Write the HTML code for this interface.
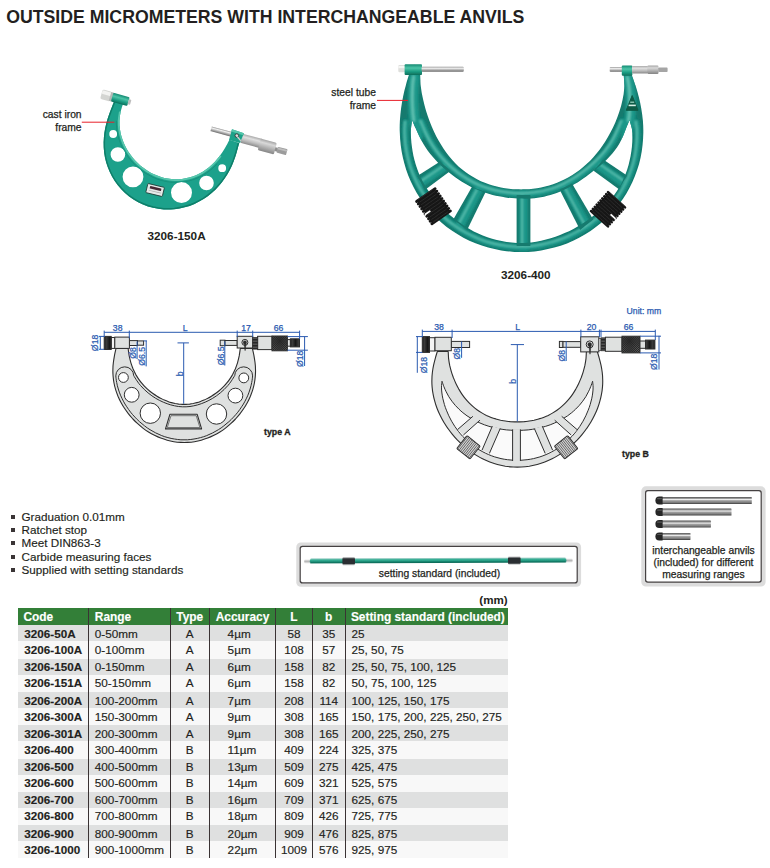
<!DOCTYPE html>
<html lang="en">
<head>
<meta charset="utf-8">
<title>Outside Micrometers with Interchangeable Anvils</title>
<style>
html,body{margin:0;padding:0;background:#fff;}
body{width:770px;height:868px;position:relative;overflow:hidden;font-family:"Liberation Sans",Arial,Helvetica,sans-serif;color:#231f20;}
.abs{position:absolute;white-space:nowrap;}
h1{position:absolute;left:6.2px;top:7.2px;margin:0;font-size:17.7px;line-height:20px;font-weight:bold;white-space:nowrap;color:#231f20;}
.cap{-webkit-text-stroke:.25px #231f20;font-size:10.3px;line-height:12.4px;text-align:right;color:#231f20;}
.model{font-size:11.75px;font-weight:bold;line-height:14px;}
.typ{-webkit-text-stroke:.3px #231f20;font-size:8.8px;font-weight:bold;line-height:11px;}
ul.feat{-webkit-text-stroke:.15px #231f20;position:absolute;left:11px;top:510px;margin:0;padding:0;list-style:none;font-size:11.7px;line-height:13.2px;}
ul.feat li{position:relative;padding-left:10.5px;white-space:nowrap;}
ul.feat li:before{content:"";position:absolute;left:0;top:5px;width:4px;height:4px;background:#3a3536;}
.boxtxt{-webkit-text-stroke:.25px #231f20;font-size:10.3px;line-height:11.7px;text-align:center;}
table.spec{position:absolute;left:18px;top:608.4px;width:489.6px;border-collapse:collapse;table-layout:fixed;font-size:11.75px;-webkit-text-stroke:.15px #231f20;}
table.spec th{background:#337f38;color:#fff;-webkit-text-stroke:.15px #fff;font-weight:bold;font-size:11.9px;text-align:left;height:17.1px;padding:1.1px 0 0 5.4px;line-height:16px;box-sizing:border-box;}
table.spec td{height:16px;padding:2.6px 0 0 0;line-height:12px;vertical-align:top;white-space:nowrap;overflow:visible;box-sizing:border-box;}
table.spec tr:nth-child(even) td{height:17.27px;}
table.spec tr:nth-child(odd) td{background:#dfe0e0;}
table.spec tr:nth-child(even) td{background:#f8f8f8;}
table.spec td.c{font-weight:bold;padding-left:6.3px;font-size:11.7px;}
table.spec td.r{padding-left:6.3px;}
table.spec td.m{text-align:center;}
table.spec td.a{padding-left:17.6px;}
table.spec td.s{padding-left:6px;}
table.spec th.m{text-align:center;padding:1.1px 0 0 0;}
table.spec th.r{padding-left:6.3px;}
table.spec td+td, table.spec th+th{border-left:1.3px solid #3a3334;}
.mm{font-size:11.6px;font-weight:bold;right:262.3px;top:592.5px;line-height:13px;}
</style>
</head>
<body>
<h1>OUTSIDE MICROMETERS WITH INTERCHANGEABLE ANVILS</h1>


<div class="abs cap" style="left:30px;top:109.1px;width:51.6px;">cast iron<br>frame</div>
<div class="abs cap" style="left:320px;top:87.1px;width:56px;">steel tube<br>frame</div>
<div class="abs model" style="left:147.5px;top:229px;">3206-150A</div>
<div class="abs model" style="left:501px;top:268px;">3206-400</div>
<div class="abs typ" style="left:264px;top:426.9px;">type A</div>
<div class="abs typ" style="left:622px;top:449.1px;">type B</div>

<ul class="feat">
<li>Graduation 0.01mm</li>
<li>Ratchet stop</li>
<li>Meet DIN863-3</li>
<li>Carbide measuring faces</li>
<li>Supplied with setting standards</li>
</ul>



<svg class="abs" style="left:0;top:0" width="770" height="868" viewBox="0 0 770 868">
<defs>
<filter id="soft2" x="-10%" y="-10%" width="120%" height="120%"><feGaussianBlur stdDeviation="1.1"/></filter>
<filter id="soft3" x="-10%" y="-10%" width="120%" height="120%"><feGaussianBlur stdDeviation="0.8"/></filter>
<filter id="soft" x="-5%" y="-5%" width="110%" height="110%"><feGaussianBlur stdDeviation="0.45"/></filter>
<linearGradient id="gsteel" x1="0" y1="0" x2="0" y2="1"><stop offset="0" stop-color="#8d8d8d"/><stop offset=".3" stop-color="#f2f2f2"/><stop offset=".6" stop-color="#b5b5b5"/><stop offset="1" stop-color="#6a6a6a"/></linearGradient>
<linearGradient id="ggreen" x1="0" y1="0" x2="0" y2="1"><stop offset="0" stop-color="#138a72"/><stop offset=".35" stop-color="#4cc4a8"/><stop offset=".7" stop-color="#1a9a80"/><stop offset="1" stop-color="#0c6f5b"/></linearGradient>
<linearGradient id="ggreen2" x1="0" y1="0" x2="0" y2="1"><stop offset="0" stop-color="#1a9079"/><stop offset=".3" stop-color="#3fb99e"/><stop offset=".6" stop-color="#168a73"/><stop offset="1" stop-color="#0b5f4e"/></linearGradient>
<linearGradient id="gsleeve" x1="0" y1="0" x2="0" y2="1"><stop offset="0" stop-color="#a9a9a9"/><stop offset=".3" stop-color="#e0e0e0"/><stop offset=".65" stop-color="#bcbcbc"/><stop offset="1" stop-color="#8a8a8a"/></linearGradient>
<linearGradient id="gthim" x1="0" y1="0" x2="0" y2="1"><stop offset="0" stop-color="#a3a3a3"/><stop offset=".28" stop-color="#d9d9d9"/><stop offset=".6" stop-color="#b3b3b3"/><stop offset="1" stop-color="#858585"/></linearGradient>
<linearGradient id="grod" x1="0" y1="0" x2="0" y2="1"><stop offset="0" stop-color="#505050"/><stop offset=".22" stop-color="#9a9a9a"/><stop offset=".36" stop-color="#ededed"/><stop offset=".52" stop-color="#a2a2a2"/><stop offset=".8" stop-color="#7a7a7a"/><stop offset="1" stop-color="#3c3c3c"/></linearGradient>
<pattern id="knv" width="1.2" height="4" patternUnits="userSpaceOnUse"><rect width="1.2" height="4" fill="#3a3a3a"/><rect width=".5" height="4" fill="#111"/></pattern>
<pattern id="knh" width="4" height="1.5" patternUnits="userSpaceOnUse"><rect width="4" height="1.5" fill="#1c1c1c"/><rect y=".9" width="4" height=".45" fill="#8a8a8a"/></pattern>
<pattern id="knx" width="1.5" height="1.5" patternUnits="userSpaceOnUse" patternTransform="rotate(45)"><rect width="1.5" height="1.5" fill="#262626"/><rect width=".6" height=".6" fill="#7d7d7d"/></pattern>
</defs>
<g id="photo1" filter="url(#soft)">
<clipPath id="clip1"><path d="M114.3,101C113.7,102.5 111.9,106.9 110.8,109.8C109.7,112.8 108.5,115.7 107.6,118.7C106.7,121.7 105.9,124.8 105.2,127.9C104.6,131.1 104.1,134.3 103.9,137.5C103.6,140.7 103.5,144 103.7,147.4C103.9,150.7 104.3,154 104.9,157.3C105.6,160.6 106.5,163.9 107.7,167.1C108.9,170.4 110.3,173.5 112,176.6C113.7,179.6 115.6,182.6 117.8,185.3C120,188 122.4,190.7 125,193C127.7,195.4 130.5,197.6 133.5,199.5C136.5,201.4 139.7,203.1 143,204.4C146.2,205.8 149.7,206.9 153.1,207.8C156.6,208.6 160.2,209.1 163.7,209.4C167.2,209.6 170.8,209.5 174.3,209.2C177.8,208.8 181.3,208.2 184.7,207.3C188,206.4 191.3,205.3 194.5,203.9C197.6,202.5 200.7,200.9 203.6,199.1C206.4,197.2 209.2,195.2 211.7,193C214.3,190.9 216.6,188.5 218.8,186C221,183.6 223,180.9 224.8,178.3C226.7,175.6 228.3,172.8 229.8,169.9C231.3,167.1 232.6,164.2 233.7,161.2C234.9,158.2 235.8,155.2 236.7,152.2C237.6,149.1 238.8,144.4 239.2,142.9L229.4,139.7C228.7,141.1 226.6,145.4 225,148C223.5,150.6 221.9,153 220.2,155.3C218.5,157.6 216.7,159.7 214.9,161.7C213,163.7 211.1,165.5 209,167.2C207,168.8 204.9,170.4 202.7,171.7C200.6,173 198.3,174.2 196,175.2C193.7,176.2 191.4,177 189,177.6C186.7,178.2 184.3,178.7 181.9,179C179.6,179.2 177.2,179.3 174.8,179.3C172.5,179.2 170.2,179 167.9,178.6C165.6,178.2 163.3,177.7 161.1,177C159,176.3 156.8,175.5 154.7,174.6C152.7,173.7 150.6,172.6 148.7,171.4C146.7,170.3 144.8,169 143,167.6C141.1,166.2 139.4,164.7 137.7,163C136,161.4 134.3,159.6 132.8,157.8C131.3,155.9 129.8,153.9 128.4,151.8C127.1,149.7 125.8,147.4 124.7,145.1C123.6,142.7 122.6,140.2 121.8,137.6C121,135 120.4,132.2 120,129.4C119.6,126.6 119.4,123.7 119.5,120.7C119.6,117.8 120,114.8 120.7,111.8C121.3,108.9 122.9,104.5 123.4,103ZM109.3,134a3.9,3.9 0 1,0 7.8,0a3.9,3.9 0 1,0 -7.8,0ZM110.6,154.5a7.3,7.3 0 1,0 14.6,0a7.3,7.3 0 1,0 -14.6,0ZM122.6,176.8a10.4,10.4 0 1,0 20.8,0a10.4,10.4 0 1,0 -20.8,0ZM171,192.6a10.5,10.5 0 1,0 21,0a10.5,10.5 0 1,0 -21,0ZM199.2,183a7.3,7.3 0 1,0 14.6,0a7.3,7.3 0 1,0 -14.6,0ZM218.3,168.2a3.9,3.9 0 1,0 7.8,0a3.9,3.9 0 1,0 -7.8,0Z" clip-rule="evenodd"/></clipPath>
<path d="M114.3,101C113.7,102.5 111.9,106.9 110.8,109.8C109.7,112.8 108.5,115.7 107.6,118.7C106.7,121.7 105.9,124.8 105.2,127.9C104.6,131.1 104.1,134.3 103.9,137.5C103.6,140.7 103.5,144 103.7,147.4C103.9,150.7 104.3,154 104.9,157.3C105.6,160.6 106.5,163.9 107.7,167.1C108.9,170.4 110.3,173.5 112,176.6C113.7,179.6 115.6,182.6 117.8,185.3C120,188 122.4,190.7 125,193C127.7,195.4 130.5,197.6 133.5,199.5C136.5,201.4 139.7,203.1 143,204.4C146.2,205.8 149.7,206.9 153.1,207.8C156.6,208.6 160.2,209.1 163.7,209.4C167.2,209.6 170.8,209.5 174.3,209.2C177.8,208.8 181.3,208.2 184.7,207.3C188,206.4 191.3,205.3 194.5,203.9C197.6,202.5 200.7,200.9 203.6,199.1C206.4,197.2 209.2,195.2 211.7,193C214.3,190.9 216.6,188.5 218.8,186C221,183.6 223,180.9 224.8,178.3C226.7,175.6 228.3,172.8 229.8,169.9C231.3,167.1 232.6,164.2 233.7,161.2C234.9,158.2 235.8,155.2 236.7,152.2C237.6,149.1 238.8,144.4 239.2,142.9L229.4,139.7C228.7,141.1 226.6,145.4 225,148C223.5,150.6 221.9,153 220.2,155.3C218.5,157.6 216.7,159.7 214.9,161.7C213,163.7 211.1,165.5 209,167.2C207,168.8 204.9,170.4 202.7,171.7C200.6,173 198.3,174.2 196,175.2C193.7,176.2 191.4,177 189,177.6C186.7,178.2 184.3,178.7 181.9,179C179.6,179.2 177.2,179.3 174.8,179.3C172.5,179.2 170.2,179 167.9,178.6C165.6,178.2 163.3,177.7 161.1,177C159,176.3 156.8,175.5 154.7,174.6C152.7,173.7 150.6,172.6 148.7,171.4C146.7,170.3 144.8,169 143,167.6C141.1,166.2 139.4,164.7 137.7,163C136,161.4 134.3,159.6 132.8,157.8C131.3,155.9 129.8,153.9 128.4,151.8C127.1,149.7 125.8,147.4 124.7,145.1C123.6,142.7 122.6,140.2 121.8,137.6C121,135 120.4,132.2 120,129.4C119.6,126.6 119.4,123.7 119.5,120.7C119.6,117.8 120,114.8 120.7,111.8C121.3,108.9 122.9,104.5 123.4,103ZM109.3,134a3.9,3.9 0 1,0 7.8,0a3.9,3.9 0 1,0 -7.8,0ZM110.6,154.5a7.3,7.3 0 1,0 14.6,0a7.3,7.3 0 1,0 -14.6,0ZM122.6,176.8a10.4,10.4 0 1,0 20.8,0a10.4,10.4 0 1,0 -20.8,0ZM171,192.6a10.5,10.5 0 1,0 21,0a10.5,10.5 0 1,0 -21,0ZM199.2,183a7.3,7.3 0 1,0 14.6,0a7.3,7.3 0 1,0 -14.6,0ZM218.3,168.2a3.9,3.9 0 1,0 7.8,0a3.9,3.9 0 1,0 -7.8,0Z" fill="#1fa18b" fill-rule="evenodd"/>
<g clip-path="url(#clip1)">
<path d="M114.3,101C113.7,102.5 111.9,106.9 110.8,109.8C109.7,112.8 108.5,115.7 107.6,118.7C106.7,121.7 105.9,124.8 105.2,127.9C104.6,131.1 104.1,134.3 103.9,137.5C103.6,140.7 103.5,144 103.7,147.4C103.9,150.7 104.3,154 104.9,157.3C105.6,160.6 106.5,163.9 107.7,167.1C108.9,170.4 110.3,173.5 112,176.6C113.7,179.6 115.6,182.6 117.8,185.3C120,188 122.4,190.7 125,193C127.7,195.4 130.5,197.6 133.5,199.5C136.5,201.4 139.7,203.1 143,204.4C146.2,205.8 149.7,206.9 153.1,207.8C156.6,208.6 160.2,209.1 163.7,209.4C167.2,209.6 170.8,209.5 174.3,209.2C177.8,208.8 181.3,208.2 184.7,207.3C188,206.4 191.3,205.3 194.5,203.9C197.6,202.5 200.7,200.9 203.6,199.1C206.4,197.2 209.2,195.2 211.7,193C214.3,190.9 216.6,188.5 218.8,186C221,183.6 223,180.9 224.8,178.3C226.7,175.6 228.3,172.8 229.8,169.9C231.3,167.1 232.6,164.2 233.7,161.2C234.9,158.2 235.8,155.2 236.7,152.2C237.6,149.1 238.8,144.4 239.2,142.9" fill="none" stroke="#0f7f6a" stroke-width="3"/>
<path d="M220.2,155.3C219.3,156.4 216.7,159.7 214.9,161.7C213,163.7 211.1,165.5 209,167.2C207,168.8 204.9,170.4 202.7,171.7C200.6,173 198.3,174.2 196,175.2C193.7,176.2 191.4,177 189,177.6C186.7,178.2 184.3,178.7 181.9,179C179.6,179.2 177.2,179.3 174.8,179.3C172.5,179.2 170.2,179 167.9,178.6C165.6,178.2 163.3,177.7 161.1,177C159,176.3 156.8,175.5 154.7,174.6C152.7,173.7 150.6,172.6 148.7,171.4C146.7,170.3 144.8,169 143,167.6C141.1,166.2 139.4,164.7 137.7,163C136,161.4 134.3,159.6 132.8,157.8C131.3,155.9 129.8,153.9 128.4,151.8C127.1,149.7 125.8,147.4 124.7,145.1C123.6,142.7 122.6,140.2 121.8,137.6C121,135 120.4,132.2 120,129.4C119.6,126.6 119.4,123.7 119.5,120.7C119.6,117.8 120.5,113.3 120.7,111.8" fill="none" stroke="#58c7ad" stroke-width="3.4"/>
<path d="M217.2,163.9C216.2,164.8 213.2,167.9 211.1,169.6C208.9,171.4 206.7,173 204.4,174.4C202.1,175.8 199.7,177.1 197.3,178.1C194.9,179.2 192.4,180 189.9,180.7C187.4,181.4 184.8,181.8 182.3,182.1C179.8,182.4 177.2,182.5 174.7,182.5C172.3,182.4 169.8,182.1 167.3,181.7C164.9,181.3 162.5,180.8 160.2,180.1C157.9,179.4 155.6,178.5 153.4,177.5C151.2,176.5 149.1,175.4 147,174.2C145,172.9 143,171.6 141,170.1C139.1,168.6 137.2,167 135.5,165.3C133.7,163.6 131.9,161.8 130.3,159.8C128.7,157.8 127.2,155.7 125.7,153.5C124.3,151.3 123,148.9 121.8,146.4C120.6,143.9 119.6,141.3 118.7,138.5C117.9,135.7 117.2,132.8 116.8,129.8C116.4,126.8 116.4,122.1 116.3,120.6" fill="none" stroke="#128a73" stroke-width=".9" opacity=".7"/>
</g>
<g transform="rotate(13.5 155.1 190)"><rect x="146.6" y="185.3" width="17" height="9.4" rx=".9" fill="#e6e9e8" stroke="#1d3b35" stroke-width=".8"/><rect x="149.4" y="187.2" width="11.6" height="2.6" rx=".5" fill="#4a2a35"/><rect x="149" y="191.4" width="12.4" height=".6" fill="#a9a9a9"/></g>
<g transform="rotate(15.6 120.3 99.4)">
<rect x="100.7" y="94.4" width="9.8" height="9.9" rx="1.6" fill="#d4d5d2"/><rect x="100.9" y="95.4" width="9.4" height="3.6" rx="1" fill="#f3f3f1"/>
<rect x="109.6" y="94.7" width="3" height="9.2" fill="#b5b8b6"/>
<rect x="111.8" y="94.9" width="17" height="9" rx="1.2" fill="url(#ggreen)"/>
<rect x="128.5" y="96.8" width="2.6" height="5.2" rx=".6" fill="#bdbdbd"/>
</g>
<g transform="rotate(15 236 136)">
<rect x="210" y="133.05" width="24" height="4.9" rx=".8" fill="url(#gsteel)"/>
<rect x="242" y="132" width="20.5" height="9.5" rx=".8" fill="url(#gsleeve)"/>
<rect x="260.6" y="132" width="16.7" height="12.1" rx="1.6" fill="url(#gthim)"/>
<rect x="277" y="136.6" width="3" height="4" fill="#8e8e8e"/>
<rect x="279.4" y="135.5" width="9.8" height="6.1" rx=".7" fill="#9c9c9c"/><rect x="279.4" y="136.3" width="9.8" height="1.8" fill="#bdbdbd"/>
</g>
<polygon points="232,129.3 243.9,133.2 240,143 229,139.9" fill="#1fa289"/>
<polygon points="232,129.3 243.9,133.2 243.2,135.3 231.3,131.4" fill="#55c6ab"/>
<circle cx="236.8" cy="135.6" r="1.8" fill="#dcdcdc" stroke="#2a2a2a" stroke-width=".8"/>
<path d="M237.6,137L240.4,140.4" stroke="#cfd4d2" stroke-width="1.2" stroke-linecap="round"/>
</g>
<path d="M81.8,122.2H114.4" stroke="#e8202a" stroke-width="1" fill="none"/>
<g id="photo2" filter="url(#soft)">
<path d="M409.5,73.2C408.9,75.1 407,80.8 406,84.7C404.9,88.6 403.9,92.5 403.1,96.4C402.3,100.3 401.6,104.3 401.1,108.3C400.6,112.3 400.2,116.3 399.9,120.4C399.7,124.4 399.6,128.5 399.8,132.6C399.9,136.7 400.2,140.8 400.7,144.9C401.2,149 401.9,153.2 402.8,157.3C403.7,161.3 404.8,165.4 406.1,169.4C407.4,173.4 409,177.4 410.7,181.3C412.5,185.2 414.4,189 416.6,192.7C418.8,196.5 421.2,200.1 423.8,203.6C426.4,207 429.2,210.4 432.1,213.6C435.1,216.8 438.3,219.9 441.6,222.7C444.9,225.6 448.4,228.3 452.1,230.8C455.7,233.3 459.5,235.6 463.4,237.7C467.3,239.8 471.4,241.6 475.5,243.3C479.6,244.9 483.9,246.4 488.2,247.6C492.4,248.8 496.8,249.7 501.2,250.4C505.6,251.2 510.1,251.6 514.5,251.9C519,252.1 523.5,252.1 527.9,251.9C532.4,251.7 536.9,251.2 541.2,250.5C545.6,249.7 550,248.8 554.3,247.6C558.6,246.4 562.8,245 567,243.4C571.1,241.8 575.2,239.9 579.1,237.8C583,235.8 586.8,233.5 590.5,231C594.1,228.6 597.7,225.9 601,223.1C604.4,220.2 607.6,217.2 610.6,214.1C613.6,210.9 616.4,207.6 619.1,204.1C621.7,200.7 624.1,197 626.4,193.4C628.6,189.7 630.6,185.8 632.4,182C634.2,178.1 635.8,174.1 637.1,170.1C638.5,166.1 639.6,162 640.5,157.9C641.4,153.8 642.1,149.6 642.5,145.5C643,141.3 643.2,137.2 643.3,133.1C643.4,129 643.2,124.9 642.9,120.8C642.5,116.8 642,112.8 641.3,108.8C640.6,104.8 639.8,100.9 638.8,97.1C637.9,93.2 636.7,89.4 635.5,85.6C634.3,81.9 632.2,76.4 631.5,74.5L623.7,74.5C623.8,76.7 624.5,83.2 624.3,87.4C624.1,91.7 623.4,95.9 622.5,100C621.7,104.1 620.6,108 619.3,111.8C618.1,115.6 616.7,119.2 615.2,122.7C613.7,126.2 612.1,129.5 610.4,132.6C608.7,135.8 606.9,138.8 605.1,141.7C603.2,144.6 601.3,147.3 599.4,150C597.4,152.6 595.3,155.1 593.2,157.4C591.1,159.8 588.9,162 586.6,164.1C584.4,166.2 582.1,168.2 579.7,170C577.3,171.8 574.9,173.5 572.4,175C569.9,176.6 567.4,178 564.8,179.3C562.3,180.6 559.7,181.7 557.1,182.7C554.5,183.8 551.8,184.7 549.2,185.4C546.5,186.2 543.8,186.9 541.2,187.4C538.5,187.9 535.8,188.4 533.1,188.7C530.4,189 527.7,189.2 525.1,189.3C522.4,189.4 519.7,189.4 517,189.3C514.3,189.2 511.6,189 508.9,188.7C506.2,188.4 503.5,188 500.8,187.5C498.1,186.9 495.4,186.3 492.7,185.5C490.1,184.7 487.4,183.8 484.8,182.8C482.1,181.7 479.5,180.5 477,179.2C474.4,177.9 471.9,176.4 469.4,174.8C467,173.2 464.5,171.4 462.2,169.5C459.9,167.6 457.6,165.6 455.5,163.4C453.3,161.2 451.2,158.9 449.3,156.5C447.3,154 445.4,151.4 443.6,148.8C441.8,146.1 440.1,143.3 438.4,140.3C436.8,137.4 435.3,134.4 433.8,131.2C432.4,128.1 431,124.8 429.7,121.4C428.4,117.9 427.2,114.4 426,110.7C424.9,107 423.9,103.1 423,99.1C422.1,95.1 421.3,90.9 420.8,86.5C420.4,82.2 420.2,75.4 420.1,73.2ZM412.1,119.9C412.7,121.3 414.5,125.6 415.7,128.3C416.9,131 418,133.7 419.3,136.3C420.5,138.8 421.8,141.3 423.3,143.7C424.7,146.2 426.2,148.5 427.8,150.7C429.5,152.9 431.2,155.1 432.9,157.1C434.7,159.1 436.5,161.1 438.3,162.9C440.2,164.8 442,166.6 443.9,168.3C445.8,170 447.8,171.6 449.7,173.1C451.6,174.7 453.6,176.1 455.6,177.5C457.5,178.9 459.5,180.2 461.5,181.5C463.5,182.8 465.6,183.9 467.6,185C469.6,186.2 471.7,187.2 473.8,188.2C475.8,189.1 477.9,190 480,190.8C482.1,191.6 484.2,192.4 486.3,193C488.4,193.7 490.6,194.3 492.7,194.9C494.8,195.4 497,195.9 499.1,196.3C501.2,196.7 503.3,197.1 505.5,197.4C507.6,197.7 509.7,197.9 511.9,198.1C514,198.3 516.1,198.5 518.3,198.6C520.4,198.6 522.6,198.7 524.7,198.7C526.8,198.6 529,198.6 531.1,198.4C533.3,198.3 535.4,198.1 537.6,197.8C539.7,197.5 541.9,197.1 544,196.7C546.1,196.2 548.3,195.7 550.4,195.1C552.5,194.5 554.6,193.8 556.6,193C558.7,192.3 560.7,191.4 562.8,190.5C564.8,189.5 566.8,188.5 568.8,187.5C570.7,186.4 572.7,185.3 574.6,184.1C576.6,182.9 578.5,181.7 580.4,180.4C582.3,179.1 584.2,177.8 586.2,176.4C588.1,175 590,173.6 592,172.1C593.9,170.6 595.9,169.1 597.8,167.5C599.8,165.9 601.8,164.2 603.7,162.4C605.6,160.7 607.6,158.8 609.4,156.8C611.3,154.9 613.1,152.8 614.7,150.6C616.4,148.4 617.9,146.1 619.3,143.7C620.7,141.3 621.9,138.7 623,136.2C624.2,133.6 625,130.9 626.1,128.2C627.2,125.5 628.9,121.3 629.5,119.9C629.9,121.4 631.4,125.8 631.9,128.8C632.4,131.8 632.4,134.8 632.4,137.8C632.4,140.9 632.2,143.9 631.9,147C631.6,150 631.1,153.1 630.6,156.1C630,159.2 629.3,162.2 628.5,165.3C627.7,168.3 626.7,171.3 625.5,174.2C624.4,177.2 623.1,180.1 621.6,182.9C620.2,185.7 618.6,188.5 616.8,191.2C615,193.8 613.1,196.4 611.1,198.9C609.1,201.4 606.9,203.8 604.6,206.1C602.4,208.3 600,210.5 597.5,212.6C595.1,214.7 592.5,216.7 589.9,218.6C587.3,220.5 584.6,222.3 581.9,224C579.1,225.7 576.3,227.4 573.4,228.9C570.6,230.4 567.6,231.8 564.6,233.1C561.6,234.5 558.6,235.7 555.5,236.8C552.4,237.9 549.2,238.8 546,239.6C542.8,240.5 539.6,241.2 536.3,241.7C533.1,242.2 529.8,242.6 526.5,242.8C523.2,243 519.8,243.1 516.5,242.9C513.2,242.8 509.9,242.5 506.6,242C503.3,241.6 500,240.9 496.8,240.1C493.6,239.3 490.5,238.3 487.4,237.2C484.3,236.1 481.2,234.9 478.2,233.5C475.2,232.1 472.3,230.6 469.5,228.9C466.7,227.3 463.9,225.6 461.3,223.7C458.6,221.9 456,220 453.5,218C451,215.9 448.5,213.8 446.2,211.7C443.9,209.5 441.6,207.2 439.4,204.9C437.3,202.5 435.2,200.1 433.3,197.6C431.3,195.1 429.5,192.6 427.8,190C426,187.3 424.4,184.6 423,181.9C421.5,179.1 420.1,176.3 418.9,173.4C417.7,170.5 416.7,167.6 415.8,164.7C414.9,161.7 414.1,158.7 413.4,155.7C412.8,152.8 412.3,149.7 411.9,146.7C411.5,143.7 411.2,140.7 411,137.7C410.9,134.7 410.8,131.7 411,128.8C411.2,125.8 411.9,121.4 412.1,119.9Z" fill="#137a6e" fill-rule="evenodd"/>
<polygon points="440.2,161.4 417.3,176.1 424.8,189.9 450.6,170.7" fill="#137a6e"/>
<polygon points="472,186.7 453.3,219.5 467.1,229.9 485.6,192.1" fill="#137a6e"/>
<polygon points="516.6,195 516.6,246 530.4,246 530.4,195" fill="#137a6e"/>
<polygon points="559.6,189.5 580.1,230.1 593.2,219.5 572,183.6" fill="#137a6e"/>
<polygon points="603.2,159.5 627,175.4 619,189.3 593.6,170.7" fill="#137a6e"/>
<clipPath id="clip2"><path d="M409.5,73.2C408.9,75.1 407,80.8 406,84.7C404.9,88.6 403.9,92.5 403.1,96.4C402.3,100.3 401.6,104.3 401.1,108.3C400.6,112.3 400.2,116.3 399.9,120.4C399.7,124.4 399.6,128.5 399.8,132.6C399.9,136.7 400.2,140.8 400.7,144.9C401.2,149 401.9,153.2 402.8,157.3C403.7,161.3 404.8,165.4 406.1,169.4C407.4,173.4 409,177.4 410.7,181.3C412.5,185.2 414.4,189 416.6,192.7C418.8,196.5 421.2,200.1 423.8,203.6C426.4,207 429.2,210.4 432.1,213.6C435.1,216.8 438.3,219.9 441.6,222.7C444.9,225.6 448.4,228.3 452.1,230.8C455.7,233.3 459.5,235.6 463.4,237.7C467.3,239.8 471.4,241.6 475.5,243.3C479.6,244.9 483.9,246.4 488.2,247.6C492.4,248.8 496.8,249.7 501.2,250.4C505.6,251.2 510.1,251.6 514.5,251.9C519,252.1 523.5,252.1 527.9,251.9C532.4,251.7 536.9,251.2 541.2,250.5C545.6,249.7 550,248.8 554.3,247.6C558.6,246.4 562.8,245 567,243.4C571.1,241.8 575.2,239.9 579.1,237.8C583,235.8 586.8,233.5 590.5,231C594.1,228.6 597.7,225.9 601,223.1C604.4,220.2 607.6,217.2 610.6,214.1C613.6,210.9 616.4,207.6 619.1,204.1C621.7,200.7 624.1,197 626.4,193.4C628.6,189.7 630.6,185.8 632.4,182C634.2,178.1 635.8,174.1 637.1,170.1C638.5,166.1 639.6,162 640.5,157.9C641.4,153.8 642.1,149.6 642.5,145.5C643,141.3 643.2,137.2 643.3,133.1C643.4,129 643.2,124.9 642.9,120.8C642.5,116.8 642,112.8 641.3,108.8C640.6,104.8 639.8,100.9 638.8,97.1C637.9,93.2 636.7,89.4 635.5,85.6C634.3,81.9 632.2,76.4 631.5,74.5L623.7,74.5C623.8,76.7 624.5,83.2 624.3,87.4C624.1,91.7 623.4,95.9 622.5,100C621.7,104.1 620.6,108 619.3,111.8C618.1,115.6 616.7,119.2 615.2,122.7C613.7,126.2 612.1,129.5 610.4,132.6C608.7,135.8 606.9,138.8 605.1,141.7C603.2,144.6 601.3,147.3 599.4,150C597.4,152.6 595.3,155.1 593.2,157.4C591.1,159.8 588.9,162 586.6,164.1C584.4,166.2 582.1,168.2 579.7,170C577.3,171.8 574.9,173.5 572.4,175C569.9,176.6 567.4,178 564.8,179.3C562.3,180.6 559.7,181.7 557.1,182.7C554.5,183.8 551.8,184.7 549.2,185.4C546.5,186.2 543.8,186.9 541.2,187.4C538.5,187.9 535.8,188.4 533.1,188.7C530.4,189 527.7,189.2 525.1,189.3C522.4,189.4 519.7,189.4 517,189.3C514.3,189.2 511.6,189 508.9,188.7C506.2,188.4 503.5,188 500.8,187.5C498.1,186.9 495.4,186.3 492.7,185.5C490.1,184.7 487.4,183.8 484.8,182.8C482.1,181.7 479.5,180.5 477,179.2C474.4,177.9 471.9,176.4 469.4,174.8C467,173.2 464.5,171.4 462.2,169.5C459.9,167.6 457.6,165.6 455.5,163.4C453.3,161.2 451.2,158.9 449.3,156.5C447.3,154 445.4,151.4 443.6,148.8C441.8,146.1 440.1,143.3 438.4,140.3C436.8,137.4 435.3,134.4 433.8,131.2C432.4,128.1 431,124.8 429.7,121.4C428.4,117.9 427.2,114.4 426,110.7C424.9,107 423.9,103.1 423,99.1C422.1,95.1 421.3,90.9 420.8,86.5C420.4,82.2 420.2,75.4 420.1,73.2ZM412.1,119.9C412.7,121.3 414.5,125.6 415.7,128.3C416.9,131 418,133.7 419.3,136.3C420.5,138.8 421.8,141.3 423.3,143.7C424.7,146.2 426.2,148.5 427.8,150.7C429.5,152.9 431.2,155.1 432.9,157.1C434.7,159.1 436.5,161.1 438.3,162.9C440.2,164.8 442,166.6 443.9,168.3C445.8,170 447.8,171.6 449.7,173.1C451.6,174.7 453.6,176.1 455.6,177.5C457.5,178.9 459.5,180.2 461.5,181.5C463.5,182.8 465.6,183.9 467.6,185C469.6,186.2 471.7,187.2 473.8,188.2C475.8,189.1 477.9,190 480,190.8C482.1,191.6 484.2,192.4 486.3,193C488.4,193.7 490.6,194.3 492.7,194.9C494.8,195.4 497,195.9 499.1,196.3C501.2,196.7 503.3,197.1 505.5,197.4C507.6,197.7 509.7,197.9 511.9,198.1C514,198.3 516.1,198.5 518.3,198.6C520.4,198.6 522.6,198.7 524.7,198.7C526.8,198.6 529,198.6 531.1,198.4C533.3,198.3 535.4,198.1 537.6,197.8C539.7,197.5 541.9,197.1 544,196.7C546.1,196.2 548.3,195.7 550.4,195.1C552.5,194.5 554.6,193.8 556.6,193C558.7,192.3 560.7,191.4 562.8,190.5C564.8,189.5 566.8,188.5 568.8,187.5C570.7,186.4 572.7,185.3 574.6,184.1C576.6,182.9 578.5,181.7 580.4,180.4C582.3,179.1 584.2,177.8 586.2,176.4C588.1,175 590,173.6 592,172.1C593.9,170.6 595.9,169.1 597.8,167.5C599.8,165.9 601.8,164.2 603.7,162.4C605.6,160.7 607.6,158.8 609.4,156.8C611.3,154.9 613.1,152.8 614.7,150.6C616.4,148.4 617.9,146.1 619.3,143.7C620.7,141.3 621.9,138.7 623,136.2C624.2,133.6 625,130.9 626.1,128.2C627.2,125.5 628.9,121.3 629.5,119.9C629.9,121.4 631.4,125.8 631.9,128.8C632.4,131.8 632.4,134.8 632.4,137.8C632.4,140.9 632.2,143.9 631.9,147C631.6,150 631.1,153.1 630.6,156.1C630,159.2 629.3,162.2 628.5,165.3C627.7,168.3 626.7,171.3 625.5,174.2C624.4,177.2 623.1,180.1 621.6,182.9C620.2,185.7 618.6,188.5 616.8,191.2C615,193.8 613.1,196.4 611.1,198.9C609.1,201.4 606.9,203.8 604.6,206.1C602.4,208.3 600,210.5 597.5,212.6C595.1,214.7 592.5,216.7 589.9,218.6C587.3,220.5 584.6,222.3 581.9,224C579.1,225.7 576.3,227.4 573.4,228.9C570.6,230.4 567.6,231.8 564.6,233.1C561.6,234.5 558.6,235.7 555.5,236.8C552.4,237.9 549.2,238.8 546,239.6C542.8,240.5 539.6,241.2 536.3,241.7C533.1,242.2 529.8,242.6 526.5,242.8C523.2,243 519.8,243.1 516.5,242.9C513.2,242.8 509.9,242.5 506.6,242C503.3,241.6 500,240.9 496.8,240.1C493.6,239.3 490.5,238.3 487.4,237.2C484.3,236.1 481.2,234.9 478.2,233.5C475.2,232.1 472.3,230.6 469.5,228.9C466.7,227.3 463.9,225.6 461.3,223.7C458.6,221.9 456,220 453.5,218C451,215.9 448.5,213.8 446.2,211.7C443.9,209.5 441.6,207.2 439.4,204.9C437.3,202.5 435.2,200.1 433.3,197.6C431.3,195.1 429.5,192.6 427.8,190C426,187.3 424.4,184.6 423,181.9C421.5,179.1 420.1,176.3 418.9,173.4C417.7,170.5 416.7,167.6 415.8,164.7C414.9,161.7 414.1,158.7 413.4,155.7C412.8,152.8 412.3,149.7 411.9,146.7C411.5,143.7 411.2,140.7 411,137.7C410.9,134.7 410.8,131.7 411,128.8C411.2,125.8 411.9,121.4 412.1,119.9Z" clip-rule="evenodd"/><polygon points="440.2,161.4 417.3,176.1 424.8,189.9 450.6,170.7"/><polygon points="472,186.7 453.3,219.5 467.1,229.9 485.6,192.1"/><polygon points="516.6,195 516.6,246 530.4,246 530.4,195"/><polygon points="559.6,189.5 580.1,230.1 593.2,219.5 572,183.6"/><polygon points="603.2,159.5 627,175.4 619,189.3 593.6,170.7"/></clipPath>
<g clip-path="url(#clip2)">
<g filter="url(#soft2)">
<path d="M417.5,136.6C417.3,135.8 416.7,133.3 416.4,131.6C416,129.9 415.7,128.2 415.4,126.5C415.1,124.7 414.9,123 414.7,121.3C414.4,119.5 414.2,117.8 414,116C413.8,114.3 413.7,112.5 413.6,110.7C413.5,109 413.3,107.2 413.3,105.4C413.2,103.6 413.2,101.8 413.1,100C413.1,98.1 413.1,96.3 413.2,94.5C413.2,92.6 413.3,90.8 413.4,88.9C413.5,87.1 413.6,85.2 413.8,83.3C414,81.4 414.4,78.6 414.5,77.7" fill="none" stroke="#1f9789" stroke-width="10.5" stroke-linecap="round"/>
<path d="M628.3,78.2C628.4,79.1 629,81.9 629.3,83.7C629.6,85.5 629.9,87.4 630.1,89.2C630.3,91 630.4,92.8 630.5,94.7C630.6,96.5 630.7,98.3 630.7,100.1C630.8,101.9 630.8,103.7 630.7,105.5C630.7,107.3 630.6,109.1 630.5,110.9C630.4,112.7 630.3,114.4 630.1,116.2C629.9,118 629.7,119.7 629.4,121.4C629.2,123.2 628.9,124.9 628.6,126.6C628.3,128.4 628,130.1 627.6,131.8C627.3,133.5 626.6,136 626.4,136.8" fill="none" stroke="#1f9789" stroke-width="10.5" stroke-linecap="round"/>
<path d="M622.2,121.8C621.7,122.9 620.3,126.2 619.4,128.4C618.4,130.5 617.5,132.6 616.5,134.7C615.6,136.7 614.5,138.8 613.4,140.7C612.3,142.6 611.1,144.5 609.9,146.3C608.6,148.1 607.3,149.9 606,151.6C604.6,153.3 603.2,154.9 601.8,156.4C600.4,158 598.9,159.5 597.4,160.9C596,162.4 594.5,163.8 593,165.1C591.5,166.4 589.9,167.7 588.4,169C586.9,170.2 585.4,171.4 583.8,172.6C582.3,173.7 580.7,174.8 579.2,175.9C577.6,177 576.1,178 574.5,179C572.9,180 571.3,180.9 569.7,181.8C568.1,182.7 566.5,183.6 564.9,184.4C563.3,185.2 561.6,185.9 560,186.6C558.3,187.3 556.7,188 555,188.6C553.3,189.2 551.6,189.7 549.9,190.2C548.2,190.7 546.5,191.2 544.8,191.6C543.1,192 541.4,192.3 539.6,192.6C537.9,192.9 536.2,193.1 534.5,193.3C532.7,193.5 531,193.7 529.3,193.8C527.5,193.9 525.8,194 524.1,194C522.4,194.1 520.6,194 518.9,194C517.2,194 515.4,193.9 513.7,193.7C512,193.6 510.3,193.4 508.5,193.2C506.8,193 505.1,192.8 503.4,192.5C501.6,192.2 499.9,191.9 498.2,191.5C496.5,191.2 494.8,190.8 493,190.3C491.3,189.8 489.6,189.3 487.9,188.8C486.2,188.2 484.5,187.6 482.8,187C481.1,186.3 479.4,185.6 477.8,184.8C476.1,184.1 474.4,183.3 472.8,182.4C471.1,181.5 469.5,180.6 467.9,179.7C466.3,178.7 464.7,177.7 463.1,176.6C461.5,175.5 460,174.4 458.4,173.2C456.9,172 455.4,170.8 453.9,169.5C452.3,168.2 450.9,166.9 449.4,165.5C448,164.1 446.5,162.7 445.1,161.2C443.7,159.7 442.3,158.1 441,156.5C439.6,154.9 438.3,153.3 437.1,151.5C435.8,149.8 434.6,148 433.4,146.2C432.2,144.4 431.1,142.5 430,140.6C428.9,138.6 427.9,136.6 426.9,134.6C425.9,132.6 425,130.5 424.1,128.3C423.2,126.2 421.8,122.8 421.3,121.7" fill="none" stroke="#1f9789" stroke-width="6.2" stroke-linecap="round"/>
<path d="M636.6,122.3C636.8,123.7 637.5,127.6 637.7,130.3C637.8,133 637.8,135.7 637.7,138.4C637.6,141.1 637.4,143.8 637.1,146.5C636.8,149.3 636.4,152 636,154.7C635.5,157.4 634.9,160.1 634.2,162.8C633.5,165.5 632.7,168.2 631.8,170.8C630.9,173.4 629.9,176.1 628.8,178.7C627.6,181.2 626.4,183.8 625.1,186.3C623.7,188.8 622.3,191.2 620.8,193.6C619.2,196 617.6,198.3 615.8,200.6C614.1,202.8 612.2,205 610.3,207.1C608.4,209.3 606.4,211.3 604.3,213.3C602.2,215.3 600.1,217.2 597.9,219C595.6,220.8 593.3,222.6 591,224.3C588.6,225.9 586.2,227.5 583.8,229.1C581.3,230.6 578.8,232 576.2,233.4C573.6,234.7 571,236 568.4,237.2C565.7,238.3 563,239.4 560.3,240.4C557.5,241.4 554.7,242.3 551.9,243.1C549.1,243.9 546.2,244.6 543.4,245.2C540.5,245.8 537.6,246.3 534.7,246.6C531.8,247 528.8,247.3 525.9,247.4C523,247.5 520,247.6 517.1,247.5C514.1,247.4 511.2,247.1 508.3,246.8C505.4,246.5 502.4,246 499.6,245.4C496.7,244.9 493.8,244.2 491,243.4C488.2,242.6 485.4,241.7 482.6,240.7C479.9,239.7 477.2,238.6 474.5,237.3C471.9,236.1 469.3,234.8 466.7,233.4C464.2,232 461.7,230.5 459.3,229C456.8,227.4 454.5,225.7 452.1,224C449.8,222.3 447.6,220.5 445.4,218.6C443.3,216.7 441.2,214.7 439.1,212.7C437.1,210.7 435.2,208.6 433.3,206.5C431.4,204.3 429.7,202.1 428,199.9C426.3,197.6 424.6,195.3 423.1,192.9C421.6,190.5 420.2,188.1 418.8,185.6C417.5,183.2 416.3,180.6 415.2,178.1C414,175.6 413,173 412.1,170.4C411.1,167.8 410.3,165.1 409.6,162.5C408.8,159.8 408.2,157.1 407.7,154.5C407.1,151.8 406.7,149.1 406.3,146.4C406,143.7 405.7,141 405.6,138.3C405.4,135.7 405.3,133 405.3,130.3C405.4,127.6 405.7,123.7 405.8,122.3" fill="none" stroke="#1f9789" stroke-width="5.4" stroke-linecap="round"/>
<path d="M449.5,163.3L416.9,185.8" stroke="#1f9789" stroke-width="8.4" fill="none"/>
<path d="M481.1,184.9L457.9,229.2" stroke="#1f9789" stroke-width="8.8" fill="none"/>
<path d="M523.5,190L523.5,251" stroke="#1f9789" stroke-width="8.3" fill="none"/>
<path d="M563.4,182.1L589.1,229.2" stroke="#1f9789" stroke-width="8.2" fill="none"/>
<path d="M594.3,162.3L627.1,185.2" stroke="#1f9789" stroke-width="8.9" fill="none"/>
</g><g filter="url(#soft3)" opacity=".9">
<path d="M621.3,120.9C620.8,122 619.4,125.3 618.5,127.5C617.5,129.6 616.6,131.7 615.6,133.8C614.7,135.8 613.6,137.9 612.5,139.8C611.4,141.7 610.2,143.6 609,145.4C607.7,147.2 606.4,149 605.1,150.7C603.7,152.4 602.3,154 600.9,155.5C599.5,157.1 598,158.6 596.5,160C595.1,161.5 593.6,162.9 592.1,164.2C590.6,165.5 589,166.8 587.5,168.1C586,169.3 584.5,170.5 582.9,171.7C581.4,172.8 579.8,173.9 578.3,175C576.7,176.1 575.2,177.1 573.6,178.1C572,179.1 570.4,180 568.8,180.9C567.2,181.8 565.6,182.7 564,183.5C562.4,184.3 560.7,185 559.1,185.7C557.4,186.4 555.8,187.1 554.1,187.7C552.4,188.3 550.7,188.8 549,189.3C547.3,189.8 545.6,190.3 543.9,190.7C542.2,191.1 540.5,191.4 538.7,191.7C537,192 535.3,192.2 533.6,192.4C531.8,192.6 530.1,192.8 528.4,192.9C526.6,193 524.9,193.1 523.2,193.1C521.5,193.2 519.7,193.1 518,193.1C516.3,193.1 514.5,193 512.8,192.8C511.1,192.7 509.4,192.5 507.6,192.3C505.9,192.1 504.2,191.9 502.5,191.6C500.7,191.3 499,191 497.3,190.6C495.6,190.3 493.9,189.9 492.1,189.4C490.4,188.9 488.7,188.4 487,187.9C485.3,187.3 483.6,186.7 481.9,186.1C480.2,185.4 478.5,184.7 476.9,183.9C475.2,183.2 473.5,182.4 471.9,181.5C470.2,180.6 468.6,179.7 467,178.8C465.4,177.8 463.8,176.8 462.2,175.7C460.6,174.6 459.1,173.5 457.5,172.3C456,171.1 454.5,169.9 453,168.6C451.4,167.3 450,166 448.5,164.6C447.1,163.2 445.6,161.8 444.2,160.3C442.8,158.8 441.4,157.2 440.1,155.6C438.7,154 437.4,152.4 436.2,150.6C434.9,148.9 433.7,147.1 432.5,145.3C431.3,143.5 430.2,141.6 429.1,139.7C428,137.7 427,135.7 426,133.7C425,131.7 424.1,129.6 423.2,127.4C422.3,125.3 420.9,121.9 420.4,120.8" fill="none" stroke="#68c5b5" stroke-width="2.2" stroke-linecap="round"/>
<path d="M635.7,121.4C635.9,122.8 636.6,126.7 636.8,129.4C636.9,132.1 636.9,134.8 636.8,137.5C636.7,140.2 636.5,142.9 636.2,145.6C635.9,148.4 635.5,151.1 635.1,153.8C634.6,156.5 634,159.2 633.3,161.9C632.6,164.6 631.8,167.3 630.9,169.9C630,172.5 629,175.2 627.9,177.8C626.7,180.3 625.5,182.9 624.2,185.4C622.8,187.9 621.4,190.3 619.9,192.7C618.3,195.1 616.7,197.4 614.9,199.7C613.2,201.9 611.3,204.1 609.4,206.2C607.5,208.4 605.5,210.4 603.4,212.4C601.3,214.4 599.2,216.3 597,218.1C594.7,219.9 592.4,221.7 590.1,223.4C587.7,225 585.3,226.6 582.9,228.2C580.4,229.7 577.9,231.1 575.3,232.5C572.7,233.8 570.1,235.1 567.5,236.3C564.8,237.4 562.1,238.5 559.4,239.5C556.6,240.5 553.8,241.4 551,242.2C548.2,243 545.3,243.7 542.5,244.3C539.6,244.9 536.7,245.4 533.8,245.7C530.9,246.1 527.9,246.4 525,246.5C522.1,246.6 519.1,246.7 516.2,246.6C513.2,246.5 510.3,246.2 507.4,245.9C504.5,245.6 501.5,245.1 498.7,244.5C495.8,244 492.9,243.3 490.1,242.5C487.3,241.7 484.5,240.8 481.7,239.8C479,238.8 476.3,237.7 473.6,236.4C471,235.2 468.4,233.9 465.8,232.5C463.3,231.1 460.8,229.6 458.4,228.1C455.9,226.5 453.6,224.8 451.2,223.1C448.9,221.4 446.7,219.6 444.5,217.7C442.4,215.8 440.3,213.8 438.2,211.8C436.2,209.8 434.3,207.7 432.4,205.6C430.5,203.4 428.8,201.2 427.1,199C425.4,196.7 423.7,194.4 422.2,192C420.7,189.6 419.3,187.2 417.9,184.7C416.6,182.3 415.4,179.7 414.3,177.2C413.1,174.7 412.1,172.1 411.2,169.5C410.2,166.9 409.4,164.2 408.7,161.6C407.9,158.9 407.3,156.2 406.8,153.6C406.2,150.9 405.8,148.2 405.4,145.5C405.1,142.8 404.8,140.1 404.7,137.4C404.5,134.8 404.4,132.1 404.4,129.4C404.5,126.7 404.8,122.8 404.9,121.4" fill="none" stroke="#68c5b5" stroke-width="1.9" stroke-linecap="round"/>
<path d="M413.8,120.4C413.6,119.5 413.3,116.9 413.1,115.1C412.9,113.4 412.8,111.6 412.7,109.8C412.6,108.1 412.4,106.3 412.4,104.5C412.3,102.7 412.3,100.9 412.2,99.1C412.2,97.2 412.2,95.4 412.3,93.6C412.3,91.7 412.4,89.9 412.5,88C412.6,86.2 412.7,84.3 412.9,82.4C413.1,80.5 413.5,77.7 413.6,76.8" fill="none" stroke="#68c5b5" stroke-width="3.4" stroke-linecap="round"/>
<path d="M627.4,77.3C627.5,78.2 628.1,81 628.4,82.8C628.7,84.6 629,86.5 629.2,88.3C629.4,90.1 629.5,91.9 629.6,93.8C629.7,95.6 629.8,97.4 629.8,99.2C629.9,101 629.9,102.8 629.8,104.6C629.8,106.4 629.7,108.2 629.6,110C629.5,111.8 629.4,113.5 629.2,115.3C629,117.1 628.7,119.7 628.5,120.5" fill="none" stroke="#68c5b5" stroke-width="3.4" stroke-linecap="round"/>
<path d="M444,165.5L420.7,181.3" stroke="#68c5b5" stroke-width="2" fill="none"/>
<path d="M477.2,189.3L459.1,223.2" stroke="#68c5b5" stroke-width="2" fill="none"/>
<path d="M522.1,195.5L522.1,245.5" stroke="#68c5b5" stroke-width="2" fill="none"/>
<path d="M564.8,187.6L585.1,225.4" stroke="#68c5b5" stroke-width="2" fill="none"/>
<path d="M599.7,164.3L623.4,180.6" stroke="#68c5b5" stroke-width="2" fill="none"/>
</g></g>
<g transform="rotate(-34.5 433.5 206.2)"><rect x="422.7" y="192.5" width="21.6" height="27.4" rx="1.5" fill="#1b1b1b"/><path d="M422.2,192.7h22.6" stroke="#171717" stroke-width="2.8" stroke-linecap="round"/><path d="M424.2,192h18.6" stroke="#3e3e3e" stroke-width=".45"/><path d="M422.2,195.7h22.6" stroke="#171717" stroke-width="2.8" stroke-linecap="round"/><path d="M424.2,195h18.6" stroke="#3e3e3e" stroke-width=".45"/><path d="M422.2,198.7h22.6" stroke="#171717" stroke-width="2.8" stroke-linecap="round"/><path d="M424.2,198h18.6" stroke="#3e3e3e" stroke-width=".45"/><path d="M422.2,201.7h22.6" stroke="#171717" stroke-width="2.8" stroke-linecap="round"/><path d="M424.2,201h18.6" stroke="#3e3e3e" stroke-width=".45"/><path d="M422.2,204.7h22.6" stroke="#171717" stroke-width="2.8" stroke-linecap="round"/><path d="M424.2,204h18.6" stroke="#3e3e3e" stroke-width=".45"/><path d="M422.2,207.7h22.6" stroke="#171717" stroke-width="2.8" stroke-linecap="round"/><path d="M424.2,207h18.6" stroke="#3e3e3e" stroke-width=".45"/><path d="M422.2,210.7h22.6" stroke="#171717" stroke-width="2.8" stroke-linecap="round"/><path d="M424.2,210h18.6" stroke="#3e3e3e" stroke-width=".45"/><path d="M422.2,213.7h22.6" stroke="#171717" stroke-width="2.8" stroke-linecap="round"/><path d="M424.2,213h18.6" stroke="#3e3e3e" stroke-width=".45"/><path d="M422.2,216.7h22.6" stroke="#171717" stroke-width="2.8" stroke-linecap="round"/><path d="M424.2,216h18.6" stroke="#3e3e3e" stroke-width=".45"/><path d="M422.2,219.7h22.6" stroke="#171717" stroke-width="2.8" stroke-linecap="round"/><path d="M424.2,219h18.6" stroke="#3e3e3e" stroke-width=".45"/><rect x="421.5" y="207.4" width="6.8" height="1.7" fill="#fff"/></g>
<g transform="rotate(42 608 209.2)"><rect x="597.1" y="196.3" width="21.8" height="25.8" rx="1.5" fill="#1b1b1b"/><path d="M596.6,196.5h22.8" stroke="#171717" stroke-width="2.6" stroke-linecap="round"/><path d="M598.6,195.8h18.8" stroke="#3e3e3e" stroke-width=".45"/><path d="M596.6,199.3h22.8" stroke="#171717" stroke-width="2.6" stroke-linecap="round"/><path d="M598.6,198.6h18.8" stroke="#3e3e3e" stroke-width=".45"/><path d="M596.6,202.1h22.8" stroke="#171717" stroke-width="2.6" stroke-linecap="round"/><path d="M598.6,201.4h18.8" stroke="#3e3e3e" stroke-width=".45"/><path d="M596.6,205h22.8" stroke="#171717" stroke-width="2.6" stroke-linecap="round"/><path d="M598.6,204.3h18.8" stroke="#3e3e3e" stroke-width=".45"/><path d="M596.6,207.8h22.8" stroke="#171717" stroke-width="2.6" stroke-linecap="round"/><path d="M598.6,207.1h18.8" stroke="#3e3e3e" stroke-width=".45"/><path d="M596.6,210.6h22.8" stroke="#171717" stroke-width="2.6" stroke-linecap="round"/><path d="M598.6,209.9h18.8" stroke="#3e3e3e" stroke-width=".45"/><path d="M596.6,213.4h22.8" stroke="#171717" stroke-width="2.6" stroke-linecap="round"/><path d="M598.6,212.7h18.8" stroke="#3e3e3e" stroke-width=".45"/><path d="M596.6,216.3h22.8" stroke="#171717" stroke-width="2.6" stroke-linecap="round"/><path d="M598.6,215.6h18.8" stroke="#3e3e3e" stroke-width=".45"/><path d="M596.6,219.1h22.8" stroke="#171717" stroke-width="2.6" stroke-linecap="round"/><path d="M598.6,218.4h18.8" stroke="#3e3e3e" stroke-width=".45"/><path d="M596.6,221.9h22.8" stroke="#171717" stroke-width="2.6" stroke-linecap="round"/><path d="M598.6,221.2h18.8" stroke="#3e3e3e" stroke-width=".45"/><rect x="613.3" y="210.4" width="6.8" height="1.7" fill="#fff"/></g>
<path d="M632.2,95.5L638,110.3H626.2Z" fill="#0b5a45" stroke="#0b5a45" stroke-width="1" stroke-linejoin="round"/><rect x="628.6" y="104.6" width="7.2" height="1.6" fill="#d7efe6"/><rect x="630.2" y="101.6" width="4" height="1.2" fill="#9fd6c4"/>
<rect x="398.3" y="64.9" width="7" height="7.4" rx="1.2" fill="#dedfdc"/><rect x="398.3" y="66" width="7" height="2.2" fill="#f6f6f4"/>
<rect x="404.6" y="64.3" width="17.4" height="10.6" rx="1" fill="url(#ggreen)"/>
<rect x="421.6" y="66.7" width="42.2" height="5" rx="1" fill="url(#gsteel)"/>
<rect x="609.7" y="67.3" width="14" height="4.4" rx=".8" fill="url(#gsteel)"/>
<rect x="621.8" y="65.4" width="10.6" height="10.4" rx="1" fill="url(#ggreen)"/>
<rect x="632" y="66" width="16" height="7.4" rx=".8" fill="url(#gsleeve)"/><rect x="647.3" y="65.5" width="11.2" height="8.4" rx="1.2" fill="url(#gthim)"/>
<rect x="658.2" y="67.6" width="9.4" height="4.4" rx=".8" fill="#a5a5a5"/>
</g>
<path d="M377,100.4H408" stroke="#e8202a" stroke-width="1" fill="none"/>
<g id="typeA">
<path d="M116,348.5C115.8,349.6 114.9,353.1 114.5,355.4C114.1,357.7 113.7,360 113.4,362.3C113.1,364.6 112.9,366.9 112.9,369.2C112.8,371.5 112.9,373.9 113.1,376.2C113.3,378.5 113.6,380.8 114,383C114.4,385.3 115,387.6 115.7,389.8C116.4,392 117.2,394.1 118,396.2C118.9,398.4 119.9,400.4 121,402.4C122.1,404.4 123.2,406.4 124.5,408.3C125.7,410.2 127.1,412 128.5,413.8C129.9,415.6 131.4,417.3 132.9,419C134.4,420.6 136,422.2 137.7,423.7C139.4,425.3 141.1,426.7 142.9,428.1C144.7,429.5 146.6,430.8 148.5,432C150.4,433.2 152.4,434.3 154.5,435.3C156.5,436.3 158.6,437.3 160.7,438.1C162.8,438.9 165,439.6 167.2,440.2C169.4,440.8 171.7,441.3 173.9,441.7C176.2,442.1 178.5,442.3 180.8,442.4C183,442.6 185.4,442.6 187.6,442.4C189.9,442.3 192.2,442.1 194.5,441.7C196.7,441.3 199,440.8 201.2,440.2C203.4,439.6 205.6,438.9 207.7,438.1C209.8,437.3 211.9,436.3 213.9,435.3C216,434.3 218,433.2 219.9,432C221.8,430.8 223.7,429.5 225.5,428.1C227.3,426.7 229,425.3 230.7,423.7C232.4,422.2 234,420.6 235.5,419C237,417.3 238.5,415.6 239.9,413.8C241.3,412 242.7,410.2 243.9,408.3C245.2,406.4 246.3,404.4 247.4,402.4C248.5,400.4 249.5,398.4 250.4,396.2C251.2,394.1 252,392 252.7,389.8C253.4,387.6 254,385.3 254.4,383C254.8,380.8 255.1,378.5 255.3,376.2C255.5,373.9 255.6,371.5 255.5,369.2C255.5,366.9 255.3,364.6 255,362.3C254.7,360 254.3,357.7 253.9,355.4C253.5,353.1 252.6,349.6 252.4,348.5L240.3,348.5C240.1,349.7 239.6,353.6 239.2,355.9C238.7,358.3 238.1,360.6 237.5,362.8C236.8,364.9 236.1,367 235.3,369C234.4,370.9 233.5,372.8 232.6,374.6C231.6,376.3 230.5,378 229.4,379.6C228.4,381.1 227.2,382.6 226,383.9C224.9,385.3 223.7,386.6 222.5,387.7C221.3,388.9 220,390 218.8,391C217.6,392 216.3,393 215.1,393.8C213.9,394.7 212.6,395.5 211.4,396.2C210.2,397 209,397.7 207.8,398.3C206.5,398.9 205.3,399.5 204.1,400C202.9,400.5 201.7,401 200.5,401.4C199.3,401.9 198.1,402.3 196.9,402.6C195.7,402.9 194.5,403.2 193.3,403.5C192.1,403.7 190.9,403.9 189.7,404.1C188.5,404.2 187.2,404.3 186,404.4C184.8,404.4 183.6,404.4 182.4,404.4C181.2,404.3 179.9,404.2 178.7,404.1C177.5,403.9 176.3,403.7 175.1,403.5C173.9,403.2 172.7,402.9 171.5,402.6C170.3,402.3 169.1,401.9 167.9,401.4C166.7,401 165.5,400.5 164.3,400C163.1,399.5 161.9,398.9 160.6,398.3C159.4,397.7 158.2,397 157,396.2C155.8,395.5 154.5,394.7 153.3,393.8C152.1,393 150.8,392 149.6,391C148.4,390 147.1,388.9 145.9,387.7C144.7,386.6 143.5,385.3 142.4,383.9C141.2,382.6 140,381.1 139,379.6C137.9,378 136.8,376.3 135.8,374.6C134.9,372.8 134,370.9 133.1,369C132.3,367 131.6,364.9 130.9,362.8C130.3,360.6 129.7,358.3 129.2,355.9C128.8,353.6 128.3,349.7 128.1,348.5Z" fill="#dfe1e0" stroke="#2e2e2e" stroke-width="1.1" stroke-linejoin="round"/>
<path d="M115.8,375.9C115.9,377 116.2,380.4 116.7,382.5C117.1,384.7 117.6,386.9 118.3,389C118.9,391.1 119.7,393.2 120.5,395.2C121.4,397.2 122.3,399.2 123.4,401.2C124.4,403.1 125.5,405 126.8,406.8C128,408.7 129.2,410.4 130.6,412.2C131.9,413.9 133.4,415.5 134.9,417.1C136.4,418.7 137.9,420.3 139.5,421.7C141.2,423.2 142.8,424.6 144.6,425.9C146.3,427.3 148.1,428.5 150,429.7C151.8,430.8 153.7,431.9 155.7,432.9C157.6,433.9 159.6,434.8 161.7,435.6C163.7,436.4 165.8,437.1 167.9,437.6C170,438.2 172.2,438.7 174.4,439C176.5,439.4 178.7,439.6 180.9,439.8C183.1,439.9 185.3,439.9 187.5,439.8C189.7,439.6 191.9,439.4 194,439C196.2,438.7 198.4,438.2 200.5,437.6C202.6,437.1 204.7,436.4 206.7,435.6C208.8,434.8 210.8,433.9 212.7,432.9C214.7,431.9 216.6,430.8 218.4,429.7C220.3,428.5 222.1,427.3 223.8,425.9C225.6,424.6 227.2,423.2 228.9,421.7C230.5,420.3 232,418.7 233.5,417.1C235,415.5 236.5,413.9 237.8,412.2C239.2,410.4 240.4,408.7 241.6,406.8C242.9,405 244,403.1 245,401.2C246.1,399.2 247,397.2 247.9,395.2C248.7,393.2 249.5,391.1 250.1,389C250.8,386.9 251.3,384.7 251.7,382.5C252.2,380.4 252.5,377 252.6,375.9A6,6 0 0,0 234.7,375.7C234.1,376.6 232.5,379.3 231.4,380.9C230.3,382.6 229.1,384.1 227.9,385.5C226.7,386.9 225.4,388.2 224.1,389.5C222.9,390.7 221.6,391.8 220.3,392.9C219,393.9 217.8,394.9 216.5,395.8C215.2,396.7 213.9,397.5 212.7,398.3C211.4,399.1 210.1,399.8 208.9,400.4C207.6,401.1 206.3,401.7 205.1,402.2C203.8,402.8 202.6,403.3 201.3,403.7C200.1,404.2 198.8,404.6 197.6,404.9C196.3,405.3 195,405.6 193.8,405.8C192.5,406.1 191.2,406.3 190,406.5C188.7,406.6 187.4,406.7 186.1,406.8C184.8,406.8 183.6,406.8 182.3,406.8C181,406.7 179.7,406.6 178.4,406.5C177.2,406.3 175.9,406.1 174.6,405.8C173.4,405.6 172.1,405.3 170.8,404.9C169.6,404.6 168.3,404.2 167.1,403.7C165.8,403.3 164.6,402.8 163.3,402.2C162.1,401.7 160.8,401.1 159.5,400.4C158.3,399.8 157,399.1 155.7,398.3C154.5,397.5 153.2,396.7 151.9,395.8C150.6,394.9 149.4,393.9 148.1,392.9C146.8,391.8 145.5,390.7 144.3,389.5C143,388.2 141.7,386.9 140.5,385.5C139.3,384.1 138.1,382.6 137,380.9C135.9,379.3 134.3,376.6 133.7,375.7A6,6 0 0,0 115.8,375.9Z" fill="none" stroke="#2e2e2e" stroke-width="1"/>
<circle cx="123.4" cy="377.5" r="4.9" fill="#fff" stroke="#2e2e2e" stroke-width="1"/>
<circle cx="131.7" cy="394.8" r="7.4" fill="#fff" stroke="#2e2e2e" stroke-width="1"/>
<circle cx="150.3" cy="413.2" r="10.2" fill="#fff" stroke="#2e2e2e" stroke-width="1"/>
<circle cx="243.8" cy="377.9" r="4.9" fill="#fff" stroke="#2e2e2e" stroke-width="1"/>
<circle cx="235.4" cy="395.6" r="7.4" fill="#fff" stroke="#2e2e2e" stroke-width="1"/>
<circle cx="216.5" cy="414" r="10.2" fill="#fff" stroke="#2e2e2e" stroke-width="1"/>
<path d="M169.9,414.3H197.2L201.6,428.9H165.5Z" fill="#dfe1e0" stroke="#2e2e2e" stroke-width="1.1" stroke-linejoin="round"/>
<path d="M171,415.7H196.2L199.9,427.5H167.3Z" fill="none" stroke="#2e2e2e" stroke-width=".6" stroke-linejoin="round"/>
<rect x="129.4" y="340.6" width="8.1" height="4.9" fill="#dfe1e0" stroke="#2e2e2e" stroke-width="1" />
<rect x="137.5" y="340.9" width="6.1" height="4.3" fill="#dfe1e0" stroke="#2e2e2e" stroke-width="1" />
<rect x="111.2" y="337.5" width="3.6" height="10.9" fill="#f4f4f4" stroke="#2e2e2e" stroke-width="1" />
<rect x="114.8" y="337.1" width="14.6" height="11.3" fill="#dfe1e0" stroke="#2e2e2e" stroke-width="1" />
<rect x="104.2" y="336.4" width="7" height="13.1" fill="url(#knv)" stroke="#2e2e2e" stroke-width="1" />
<rect x="220.2" y="340.2" width="4.8" height="5.5" fill="#dfe1e0" stroke="#2e2e2e" stroke-width="1" />
<rect x="225" y="340.5" width="12.2" height="4.9" fill="#dfe1e0" stroke="#2e2e2e" stroke-width="1" />
<rect x="237.2" y="336.3" width="15.5" height="11.7" fill="#dfe1e0" stroke="#2e2e2e" stroke-width="1" />
<circle cx="244.9" cy="342.4" r="3" fill="#dfe1e0" stroke="#2e2e2e" stroke-width="1"/>
<circle cx="244.9" cy="342.4" r="1.7" fill="#2b2b2b" stroke="#2e2e2e" stroke-width="0.4"/>
<path d="M244.2,343.2L245.1,350.6L246,343.2Z" fill="#2b2b2b" stroke="#2b2b2b" stroke-width=".6"/>
<rect x="257.6" y="336.3" width="14.4" height="13.3" fill="#dfe1e0" stroke="#2e2e2e" stroke-width="1" />
<rect x="252.7" y="337.3" width="5.1" height="11.9" fill="url(#knh)" stroke="#2e2e2e" stroke-width="0.6" />
<rect x="272" y="336" width="15.4" height="14.8" fill="url(#knx)" stroke="#2e2e2e" stroke-width="1" />
<rect x="287.4" y="339.6" width="3" height="6.6" fill="#dfe1e0" stroke="#2e2e2e" stroke-width="1" />
<rect x="290.4" y="338.8" width="9.1" height="8.1" fill="url(#knv)" stroke="#2e2e2e" stroke-width="1" />
<path d="M104.2,332.3L299.6,332.3" stroke="#2a5ab0" stroke-width="1" fill="none"/>
<path d="M104.2,330.6L104.2,337" stroke="#2a5ab0" stroke-width="1" fill="none"/>
<path d="M129.3,330.6L129.3,338.3" stroke="#2a5ab0" stroke-width="1" fill="none"/>
<path d="M237.2,330.6L237.2,337" stroke="#2a5ab0" stroke-width="1" fill="none"/>
<path d="M252.7,330.6L252.7,337" stroke="#2a5ab0" stroke-width="1" fill="none"/>
<path d="M299.6,330.6L299.6,339" stroke="#2a5ab0" stroke-width="1" fill="none"/>
<text x="117.7" y="330.7" font-family="Liberation Sans, Arial, sans-serif" font-size="8.7" fill="#2a5ab0" stroke="#2a5ab0" stroke-width=".25" text-anchor="middle">38</text>
<text x="185.2" y="330.7" font-family="Liberation Sans, Arial, sans-serif" font-size="8.7" fill="#2a5ab0" stroke="#2a5ab0" stroke-width=".25" text-anchor="middle">L</text>
<text x="246.1" y="330.7" font-family="Liberation Sans, Arial, sans-serif" font-size="8.7" fill="#2a5ab0" stroke="#2a5ab0" stroke-width=".25" text-anchor="middle">17</text>
<text x="278.6" y="330.7" font-family="Liberation Sans, Arial, sans-serif" font-size="8.7" fill="#2a5ab0" stroke="#2a5ab0" stroke-width=".25" text-anchor="middle">66</text>
<path d="M100.3,336.4L100.3,349.3" stroke="#2a5ab0" stroke-width="1" fill="none"/>
<path d="M98.8,336.4L104.2,336.4" stroke="#2a5ab0" stroke-width="1" fill="none"/>
<path d="M98.8,349.3L104.2,349.3" stroke="#2a5ab0" stroke-width="1" fill="none"/>
<text x="97.6" y="342.9" font-family="Liberation Sans, Arial, sans-serif" font-size="8.7" fill="#2a5ab0" stroke="#2a5ab0" stroke-width=".25" text-anchor="middle" transform="rotate(-90 97.6 342.9)">Ø18</text>
<path d="M137.1,341.4L137.1,359" stroke="#2a5ab0" stroke-width="1" fill="none"/>
<text x="136.1" y="353" font-family="Liberation Sans, Arial, sans-serif" font-size="8.7" fill="#2a5ab0" stroke="#2a5ab0" stroke-width=".25" text-anchor="middle" transform="rotate(-90 136.1 353)">Ø8</text>
<path d="M146.2,340.9L146.2,366.4" stroke="#2a5ab0" stroke-width="1" fill="none"/>
<path d="M143.6,340.9L147,340.9" stroke="#2a5ab0" stroke-width="1" fill="none"/>
<text x="145.3" y="356.4" font-family="Liberation Sans, Arial, sans-serif" font-size="8.7" fill="#2a5ab0" stroke="#2a5ab0" stroke-width=".25" text-anchor="middle" transform="rotate(-90 145.3 356.4)">Ø6.5</text>
<path d="M224.8,341.5L224.8,365.5" stroke="#2a5ab0" stroke-width="1" fill="none"/>
<text x="223.8" y="355.9" font-family="Liberation Sans, Arial, sans-serif" font-size="8.7" fill="#2a5ab0" stroke="#2a5ab0" stroke-width=".25" text-anchor="middle" transform="rotate(-90 223.8 355.9)">Ø6.5</text>
<path d="M304.6,336.6L304.6,366" stroke="#2a5ab0" stroke-width="1" fill="none"/>
<path d="M287.4,336.6L307.9,336.6" stroke="#2a5ab0" stroke-width="1" fill="none"/>
<path d="M287.4,350.2L307.9,350.2" stroke="#2a5ab0" stroke-width="1" fill="none"/>
<text x="303.4" y="358.8" font-family="Liberation Sans, Arial, sans-serif" font-size="8.7" fill="#2a5ab0" stroke="#2a5ab0" stroke-width=".25" text-anchor="middle" transform="rotate(-90 303.4 358.8)">Ø18</text>
<path d="M183.7,342.9L183.7,403.8" stroke="#2a5ab0" stroke-width="1" fill="none"/>
<path d="M177.5,342.9L188.9,342.9" stroke="#2a5ab0" stroke-width="1" fill="none"/>
<text x="182.6" y="373.8" font-family="Liberation Sans, Arial, sans-serif" font-size="8.7" fill="#2a5ab0" stroke="#2a5ab0" stroke-width=".25" text-anchor="middle" transform="rotate(-90 182.6 373.8)">b</text>
</g>
<g id="typeB">
<path d="M437.3,351.5C437,352.6 435.9,356 435.3,358.3C434.7,360.5 434.1,362.8 433.6,365.2C433.1,367.5 432.7,369.9 432.4,372.3C432.1,374.7 431.9,377.1 431.9,379.5C431.8,382 431.9,384.4 432.1,386.9C432.3,389.3 432.6,391.8 433.1,394.2C433.5,396.6 434.1,399 434.8,401.4C435.4,403.8 436.2,406.1 437.1,408.5C438,410.8 439,413.1 440.1,415.3C441.2,417.6 442.4,419.8 443.7,422C445,424.1 446.3,426.3 447.8,428.3C449.2,430.4 450.8,432.4 452.4,434.4C454,436.4 455.7,438.3 457.5,440.2C459.3,442 461.1,443.8 463.1,445.5C465,447.3 467,448.9 469.1,450.5C471.2,452.1 473.4,453.5 475.6,454.9C477.8,456.3 480.1,457.6 482.5,458.8C484.9,460 487.3,461.1 489.8,462C492.3,462.9 494.8,463.8 497.4,464.5C500,465.2 502.6,465.7 505.3,466.2C507.9,466.6 510.6,466.9 513.3,467C515.9,467.2 518.7,467.2 521.3,467C524,466.9 526.7,466.6 529.3,466.2C532,465.7 534.6,465.2 537.2,464.5C539.8,463.8 542.3,462.9 544.8,462C547.3,461.1 549.7,460 552.1,458.8C554.5,457.6 556.8,456.3 559,454.9C561.2,453.5 563.4,452.1 565.5,450.5C567.6,448.9 569.6,447.3 571.5,445.5C573.5,443.8 575.3,442 577.1,440.2C578.9,438.3 580.6,436.4 582.2,434.4C583.8,432.4 585.4,430.4 586.8,428.3C588.3,426.3 589.6,424.1 590.9,422C592.2,419.8 593.4,417.6 594.5,415.3C595.6,413.1 596.6,410.8 597.5,408.5C598.4,406.1 599.2,403.8 599.8,401.4C600.5,399 601.1,396.6 601.5,394.2C602,391.8 602.3,389.3 602.5,386.9C602.7,384.4 602.8,382 602.7,379.5C602.7,377.1 602.5,374.7 602.2,372.3C601.9,369.9 601.5,367.5 601,365.2C600.5,362.8 599.9,360.5 599.3,358.3C598.7,356 597.6,352.6 597.3,351.5L586.4,351.5C586.3,352.7 586.2,356.3 586,358.6C585.7,360.9 585.3,363.2 584.9,365.4C584.4,367.6 583.8,369.7 583.2,371.8C582.6,373.9 581.8,376 581.1,377.9C580.3,379.9 579.5,381.8 578.6,383.7C577.7,385.5 576.8,387.3 575.8,389.1C574.8,390.8 573.8,392.5 572.7,394.1C571.6,395.7 570.5,397.2 569.3,398.7C568.1,400.2 566.8,401.6 565.5,402.9C564.3,404.2 562.9,405.5 561.5,406.7C560.2,407.9 558.7,409 557.3,410C555.8,411.1 554.3,412 552.8,412.9C551.3,413.8 549.8,414.6 548.2,415.4C546.7,416.1 545.1,416.8 543.5,417.4C542,418 540.4,418.5 538.8,418.9C537.2,419.4 535.6,419.8 534,420.2C532.4,420.5 530.8,420.8 529.2,421C527.6,421.3 526,421.4 524.4,421.6C522.9,421.7 521.3,421.8 519.7,421.9C518.1,421.9 516.5,421.9 514.9,421.9C513.3,421.8 511.7,421.7 510.2,421.6C508.6,421.4 507,421.3 505.4,421C503.8,420.8 502.2,420.5 500.6,420.2C499,419.8 497.4,419.4 495.8,418.9C494.2,418.5 492.6,418 491.1,417.4C489.5,416.8 487.9,416.1 486.4,415.4C484.8,414.6 483.3,413.8 481.8,412.9C480.3,412 478.8,411.1 477.3,410C475.9,409 474.4,407.9 473.1,406.7C471.7,405.5 470.3,404.2 469.1,402.9C467.8,401.6 466.5,400.2 465.3,398.7C464.1,397.2 463,395.7 461.9,394.1C460.8,392.5 459.8,390.8 458.8,389.1C457.8,387.3 456.9,385.5 456,383.7C455.1,381.8 454.3,379.9 453.5,377.9C452.8,376 452,373.9 451.4,371.8C450.8,369.7 450.2,367.6 449.7,365.4C449.3,363.2 448.9,360.9 448.6,358.6C448.4,356.3 448.3,352.7 448.2,351.5Z" fill="#dfe1e0" stroke="#2e2e2e" stroke-width="1.1" stroke-linejoin="round"/>
<path d="M442,381.3C442.3,382.2 443.2,384.9 443.9,386.7C444.6,388.4 445.3,390.1 446.2,391.8C447,393.5 447.9,395.1 448.8,396.7C449.8,398.2 450.8,399.7 451.9,401.2C453,402.7 454.1,404.1 455.3,405.4C456.5,406.7 457.7,408 459,409.2C460.3,410.5 461.6,411.6 462.9,412.7C464.3,413.8 465.6,414.8 467,415.8C468.4,416.8 469.9,417.7 471.3,418.5C472.7,419.4 474.2,420.2 475.6,420.9C477.1,421.7 478.6,422.4 480,423C481.5,423.6 483,424.2 484.4,424.8C485.9,425.3 487.4,425.8 488.9,426.3C490.3,426.7 491.8,427.1 493.3,427.5C494.8,427.9 496.2,428.2 497.7,428.5C499.2,428.8 500.6,429.1 502.1,429.3C503.5,429.5 505,429.7 506.4,429.9C507.9,430 509.3,430.1 510.8,430.2C512.2,430.3 513.7,430.4 515.1,430.4C516.6,430.5 518,430.5 519.5,430.4C520.9,430.4 522.4,430.3 523.8,430.2C525.3,430.1 526.7,430 528.2,429.9C529.6,429.7 531.1,429.5 532.5,429.3C534,429.1 535.4,428.8 536.9,428.5C538.4,428.2 539.8,427.9 541.3,427.5C542.8,427.1 544.3,426.7 545.7,426.3C547.2,425.8 548.7,425.3 550.2,424.8C551.6,424.2 553.1,423.6 554.6,423C556,422.4 557.5,421.7 559,420.9C560.4,420.2 561.9,419.4 563.3,418.5C564.7,417.7 566.2,416.8 567.6,415.8C569,414.8 570.3,413.8 571.7,412.7C573,411.6 574.3,410.5 575.6,409.2C576.9,408 578.1,406.7 579.3,405.4C580.5,404.1 581.6,402.7 582.7,401.2C583.8,399.7 584.8,398.2 585.8,396.7C586.7,395.1 587.6,393.5 588.4,391.8C589.3,390.1 590,388.4 590.7,386.7C591.4,384.9 592.3,382.2 592.6,381.3C592.7,382.3 593.1,385.2 593.1,387.1C593.1,389.1 593,391 592.7,393C592.5,394.9 592.1,396.9 591.7,398.8C591.3,400.7 590.8,402.6 590.2,404.5C589.6,406.4 589,408.3 588.2,410.2C587.5,412.1 586.7,413.9 585.8,415.8C584.9,417.6 584,419.4 583,421.2C582,423 580.9,424.7 579.8,426.4C578.6,428.2 577.4,429.8 576.1,431.5C574.8,433.1 573.5,434.7 572,436.3C570.6,437.8 569.1,439.3 567.5,440.7C566,442.2 564.4,443.6 562.7,444.9C561,446.2 559.2,447.4 557.4,448.6C555.6,449.7 553.8,450.8 551.8,451.8C549.9,452.8 548,453.8 546,454.6C544,455.5 541.9,456.2 539.9,456.9C537.8,457.5 535.7,458.1 533.6,458.6C531.4,459.1 529.3,459.4 527.1,459.7C524.9,460 522.8,460.2 520.6,460.3C518.4,460.4 516.2,460.4 514,460.3C511.8,460.2 509.7,460 507.5,459.7C505.3,459.4 503.2,459.1 501,458.6C498.9,458.1 496.8,457.5 494.7,456.9C492.7,456.2 490.6,455.5 488.6,454.6C486.6,453.8 484.7,452.8 482.8,451.8C480.8,450.8 479,449.7 477.2,448.6C475.4,447.4 473.6,446.2 471.9,444.9C470.2,443.6 468.6,442.2 467.1,440.7C465.5,439.3 464,437.8 462.6,436.3C461.1,434.7 459.8,433.1 458.5,431.5C457.2,429.8 456,428.2 454.8,426.4C453.7,424.7 452.6,423 451.6,421.2C450.6,419.4 449.7,417.6 448.8,415.8C447.9,413.9 447.1,412.1 446.4,410.2C445.6,408.3 445,406.4 444.4,404.5C443.8,402.6 443.3,400.7 442.9,398.8C442.5,396.9 442.1,394.9 441.9,393C441.6,391 441.5,389.1 441.5,387.1C441.5,385.2 441.9,382.3 442,381.3Z" fill="#fafafa" stroke="#2e2e2e" stroke-width="1" stroke-linejoin="round"/>
<polygon points="472.9,416.3 457.5,429.6 463.4,435 479.9,420.2" fill="#dfe1e0"/>
<path d="M472.9,416.3L457.5,429.6" stroke="#2e2e2e" stroke-width="1" fill="none"/>
<path d="M479.9,420.2L463.4,435" stroke="#2e2e2e" stroke-width="1" fill="none"/>
<polygon points="492.3,426.2 482,450.2 489.4,453.4 500.2,428.6" fill="#dfe1e0"/>
<path d="M492.3,426.2L482,450.2" stroke="#2e2e2e" stroke-width="1" fill="none"/>
<path d="M500.2,428.6L489.4,453.4" stroke="#2e2e2e" stroke-width="1" fill="none"/>
<polygon points="512.6,429.4 512.6,461 520.4,461 520.4,429.4" fill="#dfe1e0"/>
<path d="M512.6,429.4L512.6,461" stroke="#2e2e2e" stroke-width="1" fill="none"/>
<path d="M520.4,429.4L520.4,461" stroke="#2e2e2e" stroke-width="1" fill="none"/>
<polygon points="561.7,416.3 577.1,429.6 571.2,435 554.7,420.2" fill="#dfe1e0"/>
<path d="M561.7,416.3L577.1,429.6" stroke="#2e2e2e" stroke-width="1" fill="none"/>
<path d="M554.7,420.2L571.2,435" stroke="#2e2e2e" stroke-width="1" fill="none"/>
<polygon points="542.3,426.2 552.6,450.2 545.2,453.4 534.4,428.6" fill="#dfe1e0"/>
<path d="M542.3,426.2L552.6,450.2" stroke="#2e2e2e" stroke-width="1" fill="none"/>
<path d="M534.4,428.6L545.2,453.4" stroke="#2e2e2e" stroke-width="1" fill="none"/>
<g transform="rotate(38.5 468.5 447.3)"><rect x="460" y="439.1" width="17" height="16.5" rx="1" fill="#d2d2d2" stroke="#2e2e2e" stroke-width="1"/><path d="M461.2,439.1v16.5" stroke="#2e2e2e" stroke-width=".6"/><path d="M463,439.1v16.5" stroke="#2e2e2e" stroke-width=".6"/><path d="M464.8,439.1v16.5" stroke="#2e2e2e" stroke-width=".6"/><path d="M466.7,439.1v16.5" stroke="#2e2e2e" stroke-width=".6"/><path d="M468.5,439.1v16.5" stroke="#2e2e2e" stroke-width=".6"/><path d="M470.3,439.1v16.5" stroke="#2e2e2e" stroke-width=".6"/><path d="M472.1,439.1v16.5" stroke="#2e2e2e" stroke-width=".6"/><path d="M474,439.1v16.5" stroke="#2e2e2e" stroke-width=".6"/><path d="M475.8,439.1v16.5" stroke="#2e2e2e" stroke-width=".6"/></g>
<g transform="rotate(-38.5 566.0999999999999 447.3)"><rect x="557.6" y="439.1" width="17" height="16.5" rx="1" fill="#d2d2d2" stroke="#2e2e2e" stroke-width="1"/><path d="M558.8,439.1v16.5" stroke="#2e2e2e" stroke-width=".6"/><path d="M560.6,439.1v16.5" stroke="#2e2e2e" stroke-width=".6"/><path d="M562.4,439.1v16.5" stroke="#2e2e2e" stroke-width=".6"/><path d="M564.3,439.1v16.5" stroke="#2e2e2e" stroke-width=".6"/><path d="M566.1,439.1v16.5" stroke="#2e2e2e" stroke-width=".6"/><path d="M567.9,439.1v16.5" stroke="#2e2e2e" stroke-width=".6"/><path d="M569.8,439.1v16.5" stroke="#2e2e2e" stroke-width=".6"/><path d="M571.6,439.1v16.5" stroke="#2e2e2e" stroke-width=".6"/><path d="M573.4,439.1v16.5" stroke="#2e2e2e" stroke-width=".6"/></g>
<rect x="451.3" y="341.4" width="18.3" height="6.1" fill="#dfe1e0" stroke="#2e2e2e" stroke-width="1" />
<rect x="429.5" y="337.7" width="5.5" height="13.3" fill="#f4f4f4" stroke="#2e2e2e" stroke-width="1" />
<rect x="435" y="337.3" width="16.3" height="13.4" fill="#dfe1e0" stroke="#2e2e2e" stroke-width="1" />
<rect x="422.3" y="336.6" width="7.2" height="15.8" fill="url(#knv)" stroke="#2e2e2e" stroke-width="1" />
<rect x="559.4" y="341.4" width="3.6" height="6.1" fill="#dfe1e0" stroke="#2e2e2e" stroke-width="1" />
<rect x="563" y="341.6" width="17.7" height="5.7" fill="#dfe1e0" stroke="#2e2e2e" stroke-width="1" />
<rect x="580.7" y="336.8" width="18.2" height="15.1" fill="#dfe1e0" stroke="#2e2e2e" stroke-width="1" />
<circle cx="589.7" cy="344.4" r="3.5" fill="#dfe1e0" stroke="#2e2e2e" stroke-width="1"/>
<circle cx="589.7" cy="344.4" r="1.9" fill="#2b2b2b" stroke="#2e2e2e" stroke-width="0.4"/>
<path d="M588.9,345.2L590,354.2L591,345.2Z" fill="#2b2b2b" stroke="#2b2b2b" stroke-width=".6"/>
<rect x="598.9" y="338.3" width="2.1" height="12.2" fill="#f4f4f4" stroke="#2e2e2e" stroke-width="0.7" />
<rect x="601" y="337.8" width="4.4" height="13" fill="url(#knh)" stroke="#2e2e2e" stroke-width="0.7" />
<rect x="605.4" y="337.2" width="16.6" height="14.1" fill="#dfe1e0" stroke="#2e2e2e" stroke-width="1" />
<rect x="622" y="336.2" width="18" height="16.7" fill="url(#knx)" stroke="#2e2e2e" stroke-width="1" />
<rect x="640" y="341" width="5.5" height="7.3" fill="#dfe1e0" stroke="#2e2e2e" stroke-width="1" />
<rect x="645.5" y="340.1" width="9.4" height="8.9" fill="url(#knv)" stroke="#2e2e2e" stroke-width="1" />
<path d="M422.3,331.4L655.3,331.4" stroke="#2a5ab0" stroke-width="1" fill="none"/>
<path d="M422.3,329.6L422.3,337" stroke="#2a5ab0" stroke-width="1" fill="none"/>
<path d="M452.1,329.6L452.1,338" stroke="#2a5ab0" stroke-width="1" fill="none"/>
<path d="M580.9,329.6L580.9,337" stroke="#2a5ab0" stroke-width="1" fill="none"/>
<path d="M599.4,329.6L599.4,337" stroke="#2a5ab0" stroke-width="1" fill="none"/>
<path d="M601,329.6L601,337" stroke="#2a5ab0" stroke-width="1" fill="none"/>
<path d="M655.3,329.6L655.3,340" stroke="#2a5ab0" stroke-width="1" fill="none"/>
<text x="439" y="329.9" font-family="Liberation Sans, Arial, sans-serif" font-size="8.7" fill="#2a5ab0" stroke="#2a5ab0" stroke-width=".25" text-anchor="middle">38</text>
<text x="517.7" y="329.9" font-family="Liberation Sans, Arial, sans-serif" font-size="8.7" fill="#2a5ab0" stroke="#2a5ab0" stroke-width=".25" text-anchor="middle">L</text>
<text x="591.5" y="329.9" font-family="Liberation Sans, Arial, sans-serif" font-size="8.7" fill="#2a5ab0" stroke="#2a5ab0" stroke-width=".25" text-anchor="middle">20</text>
<text x="628.5" y="329.9" font-family="Liberation Sans, Arial, sans-serif" font-size="8.7" fill="#2a5ab0" stroke="#2a5ab0" stroke-width=".25" text-anchor="middle">66</text>
<path d="M417.3,336.4L417.3,372.8" stroke="#2a5ab0" stroke-width="1" fill="none"/>
<path d="M416,336.6L422.3,336.6" stroke="#2a5ab0" stroke-width="1" fill="none"/>
<path d="M416,352.4L422.3,352.4" stroke="#2a5ab0" stroke-width="1" fill="none"/>
<text x="426.7" y="365" font-family="Liberation Sans, Arial, sans-serif" font-size="8.7" fill="#2a5ab0" stroke="#2a5ab0" stroke-width=".25" text-anchor="middle" transform="rotate(-90 426.7 365)">Ø18</text>
<path d="M461.6,341.4L461.6,357.8" stroke="#2a5ab0" stroke-width="1" fill="none"/>
<text x="460.4" y="353.8" font-family="Liberation Sans, Arial, sans-serif" font-size="8.7" fill="#2a5ab0" stroke="#2a5ab0" stroke-width=".25" text-anchor="middle" transform="rotate(-90 460.4 353.8)">Ø8</text>
<path d="M566.2,341.4L566.2,361" stroke="#2a5ab0" stroke-width="1" fill="none"/>
<text x="565.2" y="355.8" font-family="Liberation Sans, Arial, sans-serif" font-size="8.7" fill="#2a5ab0" stroke="#2a5ab0" stroke-width=".25" text-anchor="middle" transform="rotate(-90 565.2 355.8)">Ø8</text>
<path d="M659,335.8L659,369.5" stroke="#2a5ab0" stroke-width="1" fill="none"/>
<path d="M640,336.2L661,336.2" stroke="#2a5ab0" stroke-width="1" fill="none"/>
<path d="M640,352.9L661,352.9" stroke="#2a5ab0" stroke-width="1" fill="none"/>
<text x="657.4" y="361.9" font-family="Liberation Sans, Arial, sans-serif" font-size="8.7" fill="#2a5ab0" stroke="#2a5ab0" stroke-width=".25" text-anchor="middle" transform="rotate(-90 657.4 361.9)">Ø18</text>
<path d="M517.3,344.6L517.3,421.4" stroke="#2a5ab0" stroke-width="1" fill="none"/>
<path d="M510.8,344.6L524,344.6" stroke="#2a5ab0" stroke-width="1" fill="none"/>
<text x="516.3" y="381.3" font-family="Liberation Sans, Arial, sans-serif" font-size="8.7" fill="#2a5ab0" stroke="#2a5ab0" stroke-width=".25" text-anchor="middle" transform="rotate(-90 516.3 381.3)">b</text>
<text x="661.3" y="313.8" font-family="Liberation Sans, Arial, sans-serif" font-size="8.7" fill="#2a5ab0" stroke="#2a5ab0" stroke-width=".25" text-anchor="end">Unit: mm</text>
</g>
<rect x="296.3" y="542.5" width="284.8" height="44.3" rx="4.6" fill="#dcdcdc"/><rect x="299.6" y="545.8" width="278.2" height="37.7" rx="2.8" fill="#454142"/><rect x="300.8" y="547" width="275.8" height="35.3" rx="1.8" fill="#fff"/>
<rect x="641.3" y="486.3" width="124.3" height="100.2" rx="4.6" fill="#dcdcdc"/><rect x="645" y="490.1" width="116.8" height="92.7" rx="2.8" fill="#454142"/><rect x="646.2" y="491.2" width="114.4" height="90.3" rx="1.8" fill="#fff"/>
<g id="setstd" filter="url(#soft)" transform="rotate(-0.2 438 561)">
<rect x="304.2" y="559.8" width="7" height="2.4" rx=".8" fill="#b9b9b9"/><rect x="565" y="559.8" width="7.6" height="2.4" rx=".8" fill="#b9b9b9"/>
<rect x="309.8" y="558.5" width="256.6" height="4.6" rx="1.6" fill="url(#ggreen2)"/>
<rect x="342.4" y="557.6" width="12.6" height="6.6" rx=".9" fill="#2a2e31"/><rect x="508" y="557.6" width="12.6" height="6.6" rx=".9" fill="#2a2e31"/>
</g>
<g id="anvils" filter="url(#soft)">
<rect x="659" y="497" width="92.8" height="7" rx=".6" fill="url(#grod)"/>
<path d="M659.2,496.5h3.4v8h-3.4a3.8,4 0 0,1 0,-8z" fill="#262626"/>
<rect x="657" y="498" width="5" height="1.2" rx=".6" fill="#555"/>
<rect x="659" y="508.5" width="72.5" height="7" rx=".6" fill="url(#grod)"/>
<path d="M659.2,508h3.4v8h-3.4a3.8,4 0 0,1 0,-8z" fill="#262626"/>
<rect x="657" y="509.5" width="5" height="1.2" rx=".6" fill="#555"/>
<rect x="659" y="520.6" width="51.9" height="7" rx=".6" fill="url(#grod)"/>
<path d="M659.2,520.1h3.4v8h-3.4a3.8,4 0 0,1 0,-8z" fill="#262626"/>
<rect x="657" y="521.6" width="5" height="1.2" rx=".6" fill="#555"/>
<rect x="659" y="532.9" width="31.5" height="7" rx=".6" fill="url(#grod)"/>
<path d="M659.2,532.4h3.4v8h-3.4a3.8,4 0 0,1 0,-8z" fill="#262626"/>
<rect x="657" y="533.9" width="5" height="1.2" rx=".6" fill="#555"/>
</g>
<!--MORE-->
</svg>
<div class="abs boxtxt" style="left:300px;top:568px;width:279px;">setting standard (included)</div>
<div class="abs boxtxt" style="left:645px;top:545.4px;width:117px;">interchangeable anvils<br>(included) for different<br>measuring ranges</div>
<div class="abs mm">(mm)</div>
<table class="spec">
<colgroup><col style="width:70px"><col style="width:82px"><col style="width:39.5px"><col style="width:66px"><col style="width:37px"><col style="width:32.5px"><col style="width:162.6px"></colgroup>
<thead><tr><th>Code</th><th class="r">Range</th><th class="m">Type</th><th class="m">Accuracy</th><th class="m">L</th><th class="m">b</th><th>Setting standard (included)</th></tr></thead>
<tbody>
<tr><td class="c">3206-50A</td><td class="r">0-50mm</td><td class="m">A</td><td class="a">4µm</td><td class="m">58</td><td class="m">35</td><td class="s">25</td></tr>
<tr><td class="c">3206-100A</td><td class="r">0-100mm</td><td class="m">A</td><td class="a">5µm</td><td class="m">108</td><td class="m">57</td><td class="s">25, 50, 75</td></tr>
<tr><td class="c">3206-150A</td><td class="r">0-150mm</td><td class="m">A</td><td class="a">6µm</td><td class="m">158</td><td class="m">82</td><td class="s">25, 50, 75, 100, 125</td></tr>
<tr><td class="c">3206-151A</td><td class="r">50-150mm</td><td class="m">A</td><td class="a">6µm</td><td class="m">158</td><td class="m">82</td><td class="s">50, 75, 100, 125</td></tr>
<tr><td class="c">3206-200A</td><td class="r">100-200mm</td><td class="m">A</td><td class="a">7µm</td><td class="m">208</td><td class="m">114</td><td class="s">100, 125, 150, 175</td></tr>
<tr><td class="c">3206-300A</td><td class="r">150-300mm</td><td class="m">A</td><td class="a">9µm</td><td class="m">308</td><td class="m">165</td><td class="s">150, 175, 200, 225, 250, 275</td></tr>
<tr><td class="c">3206-301A</td><td class="r">200-300mm</td><td class="m">A</td><td class="a">9µm</td><td class="m">308</td><td class="m">165</td><td class="s">200, 225, 250, 275</td></tr>
<tr><td class="c">3206-400</td><td class="r">300-400mm</td><td class="m">B</td><td class="a">11µm</td><td class="m">409</td><td class="m">224</td><td class="s">325, 375</td></tr>
<tr><td class="c">3206-500</td><td class="r">400-500mm</td><td class="m">B</td><td class="a">13µm</td><td class="m">509</td><td class="m">275</td><td class="s">425, 475</td></tr>
<tr><td class="c">3206-600</td><td class="r">500-600mm</td><td class="m">B</td><td class="a">14µm</td><td class="m">609</td><td class="m">321</td><td class="s">525, 575</td></tr>
<tr><td class="c">3206-700</td><td class="r">600-700mm</td><td class="m">B</td><td class="a">16µm</td><td class="m">709</td><td class="m">371</td><td class="s">625, 675</td></tr>
<tr><td class="c">3206-800</td><td class="r">700-800mm</td><td class="m">B</td><td class="a">18µm</td><td class="m">809</td><td class="m">426</td><td class="s">725, 775</td></tr>
<tr><td class="c">3206-900</td><td class="r">800-900mm</td><td class="m">B</td><td class="a">20µm</td><td class="m">909</td><td class="m">476</td><td class="s">825, 875</td></tr>
<tr><td class="c">3206-1000</td><td class="r">900-1000mm</td><td class="m">B</td><td class="a">22µm</td><td class="m">1009</td><td class="m">576</td><td class="s">925, 975</td></tr>
</tbody>
</table>
</body>
</html>
